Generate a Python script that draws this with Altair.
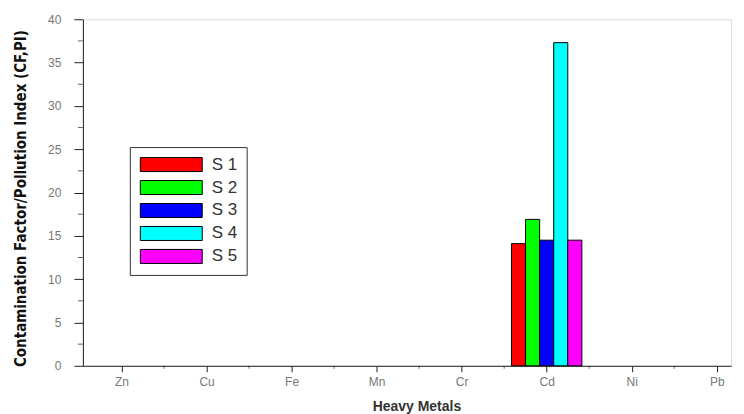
import altair as alt
import pandas as pd

metals = ["Zn", "Cu", "Fe", "Mn", "Cr", "Cd", "Ni", "Pb"]
samples = ["S 1", "S 2", "S 3", "S 4", "S 5"]
colors = ["#FF0000", "#00FF00", "#0000FF", "#00FFFF", "#FF00FF"]

s1 = [0, 0, 0, 0, 0, 14.1, 0, 0]
s2 = [0, 0, 0, 0, 0, 16.9, 0, 0]
s3 = [0, 0, 0, 0, 0, 14.5, 0, 0]
s4 = [0, 0, 0, 0, 0, 37.3, 0, 0]
s5 = [0, 0, 0, 0, 0, 14.5, 0, 0]
series = [s1, s2, s3, s4, s5]

y_ticks = [0, 5, 10, 15, 20, 25, 30, 35, 40]
y_minor = [2.5, 7.5, 12.5, 17.5, 22.5, 27.5, 32.5, 37.5]
x_minor = [0.5, 1.5, 2.5, 3.5, 4.5, 5.5, 6.5]

rows = []
for j, (name, vals) in enumerate(zip(samples, series)):
    for i, (m, v) in enumerate(zip(metals, vals)):
        rows.append({"metal": m, "idx": i, "sample": name, "sidx": j, "value": v})
df = pd.DataFrame(rows)

W, H = 649, 347
BW = 0.1656  # bar width in category units

label_expr = "[" + ",".join("'%s'" % m for m in metals) + "][datum.value]"

x_scale = alt.Scale(domain=[-0.4545, 7.168], nice=False, zero=False)
y_scale = alt.Scale(domain=[0, 40], nice=False)

x_axis = alt.Axis(
    values=list(range(len(metals))), labelExpr=label_expr, grid=False,
    tickSize=6, tickColor="#222", domainColor="#222",
    labelColor="#777", labelFontSize=12, labelFont="Liberation Sans", labelPadding=5,
    title="Heavy Metals", titleFont="Liberation Sans", titleFontSize=14,
    titleFontWeight="bold", titleColor="#333", titlePadding=12, titleX=334,
)
y_axis = alt.Axis(
    values=y_ticks, grid=False, tickSize=9, tickColor="#222", domainColor="#222",
    labelColor="#777", labelFontSize=12, labelFont="Liberation Sans", labelPadding=13,
    title="Contamination Factor/Pollution Index (CF,PI)",
    titleFont="Liberation Sans Narrow, DejaVu Sans Condensed, Liberation Sans",
    titleFontSize=15, titleFontWeight="bold", titleColor="#111", titlePadding=19,
    titleY=179,
)

X = alt.X("x0:Q", scale=x_scale, axis=x_axis)
Y = alt.Y("value:Q", scale=y_scale, axis=y_axis)

# legend swatch: 62 x 14 px rectangle, drawn with a 14 px symbol size
SYM = 14
sym_path = "M-1,-1H%.4fV1H-1Z" % (-1 + 62 / (SYM / 2))

bars = alt.Chart(df).transform_filter("datum.value > 0").transform_calculate(
    x0=f"datum.idx + (datum.sidx - 2) * {BW} - {BW/2}",
    x1=f"datum.idx + (datum.sidx - 2) * {BW} + {BW/2}",
    base="0",
).mark_bar(stroke="black", strokeWidth=1).encode(
    x=X,
    x2="x1:Q",
    y=Y,
    y2="base:Q",
    color=alt.Color(
        "sample:N",
        scale=alt.Scale(domain=samples, range=colors),
        legend=alt.Legend(
            title=None, orient="none", legendX=47, legendY=128,
            symbolType=sym_path, symbolSize=SYM * SYM,
            symbolStrokeColor="black", symbolStrokeWidth=1, symbolOpacity=1,
            labelFontSize=17, labelFont="Liberation Sans", labelColor="#333",
            labelOffset=62 - SYM + 8, rowPadding=4, padding=9,
            strokeColor="#333", fillColor="white",
        ),
    ),
)

minor_y = alt.Chart(pd.DataFrame({"value": y_minor})).mark_tick(
    orient="horizontal", size=5, thickness=1, color="#222"
).encode(y=Y, x=alt.value(-2.5))

minor_x = alt.Chart(pd.DataFrame({"x0": x_minor})).mark_tick(
    orient="vertical", size=3, thickness=1, color="#222"
).encode(x=X, y=alt.value(H + 1.5))

chart = alt.layer(bars, minor_y, minor_x).properties(
    width=W, height=H,
    padding={"left": 5, "top": 5, "right": 5, "bottom": 0},
).configure_view(stroke=None).configure(background="white")

chart.save("out.html", embed_options={"renderer": "svg", "actions": False})
